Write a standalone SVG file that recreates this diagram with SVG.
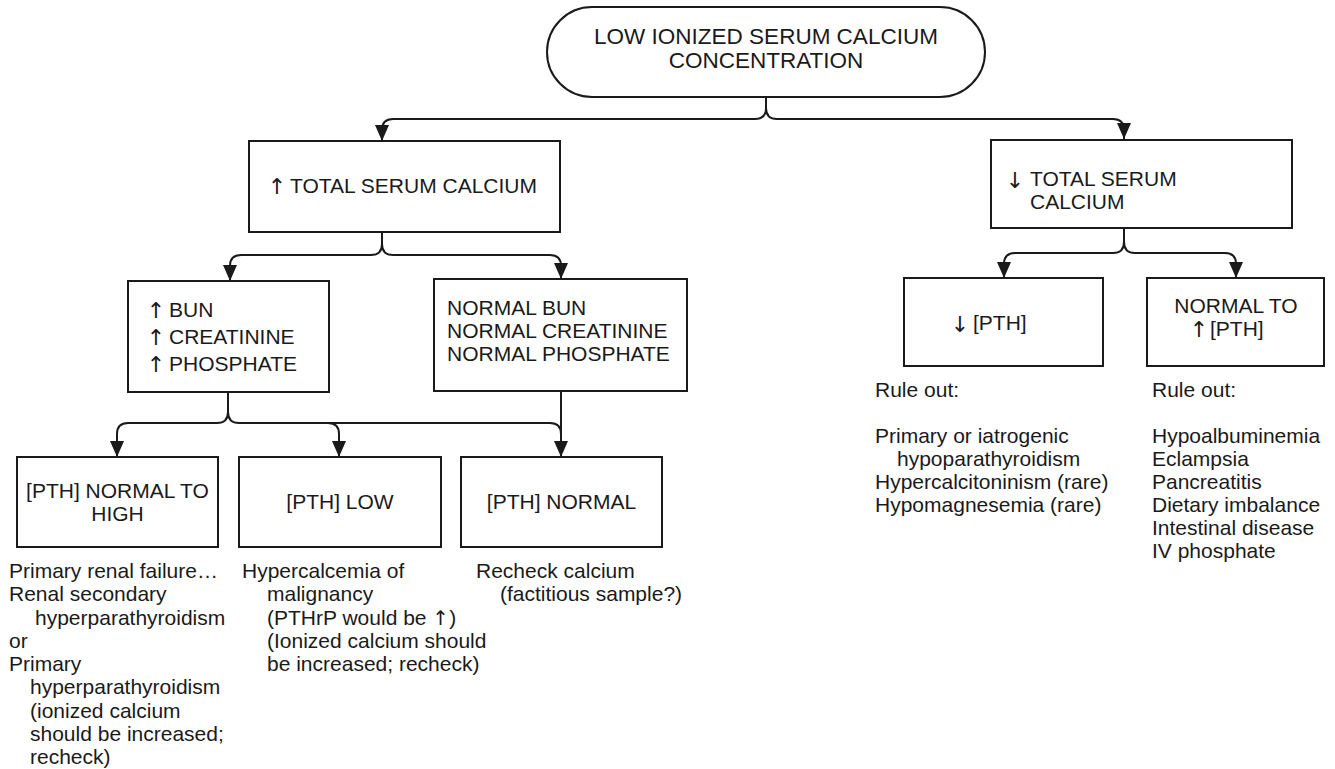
<svg xmlns="http://www.w3.org/2000/svg" width="1335" height="769" viewBox="0 0 1335 769">
<style>
  .box{fill:#fff;stroke:#1a1a1a;stroke-width:2}
  .conn{fill:none;stroke:#1a1a1a;stroke-width:2}
  text{font-family:"Liberation Sans",Arial,Helvetica,sans-serif;font-size:21px;fill:#1a1a1a}
  .c{text-anchor:middle}
  .big{font-size:22.5px}
  .ar{font-family:"DejaVu Sans",sans-serif;font-size:22px;text-anchor:middle}
  .ari{font-family:"DejaVu Sans",sans-serif;font-size:20px}
</style>
<defs>
  <marker id="ah" viewBox="0 0 16 14" refX="16" refY="7" markerWidth="16" markerHeight="14" markerUnits="userSpaceOnUse" orient="auto">
    <path d="M0,0 L16,7 L0,14 z" fill="#1a1a1a"/>
  </marker>
</defs>
<rect width="1335" height="769" fill="#fff"/>

<g id="connectors" class="conn">
  <path d="M766,97 V108 Q766,119 755,119 H393 Q382,119 382,130 V141" marker-end="url(#ah)"/>
  <path d="M766,108 Q766,119 777,119 H1113 Q1124,119 1124,130 V139" marker-end="url(#ah)"/>
  <path d="M382,232 V244 Q382,255 371,255 H241 Q230,255 230,266 V281" marker-end="url(#ah)"/>
  <path d="M382,244 Q382,255 393,255 H550 Q561,255 561,266 V279" marker-end="url(#ah)"/>
  <path d="M228,392 V412 Q228,423 217,423 H128 Q117,423 117,434 V457" marker-end="url(#ah)"/>
  <path d="M228,412 Q228,423 239,423 H550 Q561,423 561,434"/>
  <path d="M328,423 Q339,423 339,434 V457" marker-end="url(#ah)"/>
  <path d="M561,391 V457" marker-end="url(#ah)"/>
  <path d="M1124,228 V242 Q1124,253 1113,253 H1015 Q1004,253 1004,264 V278" marker-end="url(#ah)"/>
  <path d="M1124,242 Q1124,253 1135,253 H1225 Q1236,253 1236,264 V278" marker-end="url(#ah)"/>
</g>

<g id="n_top">
  <rect class="box" x="547" y="7" width="438" height="90" rx="45" ry="45"/>
  <text class="c big" x="766" y="44">LOW IONIZED SERUM CALCIUM</text>
  <text class="c big" x="766" y="68">CONCENTRATION</text>
</g>

<g id="n_tsc_up">
  <rect class="box" x="249" y="141" width="311" height="91"/>
  <text class="ar" x="277" y="194">↑</text>
  <text x="290" y="193">TOTAL SERUM CALCIUM</text>
</g>

<g id="n_tsc_dn">
  <rect class="box" x="991" y="140" width="301" height="88"/>
  <text class="ar" x="1015" y="188">↓</text>
  <text x="1030" y="186">TOTAL SERUM</text>
  <text x="1030" y="209">CALCIUM</text>
</g>

<g id="n_bun_up">
  <rect class="box" x="128" y="281" width="201" height="111"/>
  <text class="ar" x="156" y="318">↑</text>
  <text x="169" y="317">BUN</text>
  <text class="ar" x="156" y="345">↑</text>
  <text x="169" y="344">CREATININE</text>
  <text class="ar" x="156" y="372">↑</text>
  <text x="169" y="371">PHOSPHATE</text>
</g>

<g id="n_bun_norm">
  <rect class="box" x="434" y="279" width="253" height="112"/>
  <text x="447" y="315">NORMAL BUN</text>
  <text x="447" y="338">NORMAL CREATININE</text>
  <text x="447" y="361">NORMAL PHOSPHATE</text>
</g>

<g id="n_pth_dn">
  <rect class="box" x="904" y="278" width="199" height="88"/>
  <text class="ar" x="960" y="332">↓</text>
  <text x="973" y="330">[PTH]</text>
</g>

<g id="n_pth_nup">
  <rect class="box" x="1147" y="278" width="177" height="88"/>
  <text class="c" x="1236" y="313">NORMAL TO</text>
  <text class="ar" x="1199" y="337">↑</text>
  <text x="1210" y="336">[PTH]</text>
</g>

<g id="n_pth_nh">
  <rect class="box" x="17" y="457" width="201" height="90"/>
  <text class="c" x="117.5" y="498">[PTH] NORMAL TO</text>
  <text class="c" x="117.5" y="521">HIGH</text>
</g>

<g id="n_pth_low">
  <rect class="box" x="239" y="457" width="202" height="90"/>
  <text class="c" x="340" y="509">[PTH] LOW</text>
</g>

<g id="n_pth_norm">
  <rect class="box" x="461" y="457" width="201" height="90"/>
  <text class="c" x="561.5" y="509">[PTH] NORMAL</text>
</g>

<g id="t_col1">
  <text x="9" y="578">Primary renal failure…</text>
  <text x="9" y="601">Renal secondary</text>
  <text x="35" y="625">hyperparathyroidism</text>
  <text x="9" y="648">or</text>
  <text x="9" y="671">Primary</text>
  <text x="30" y="694">hyperparathyroidism</text>
  <text x="30" y="718">(ionized calcium</text>
  <text x="30" y="741">should be increased;</text>
  <text x="30" y="764">recheck)</text>
</g>

<g id="t_col2">
  <text x="242" y="578">Hypercalcemia of</text>
  <text x="267" y="601">malignancy</text>
  <text x="267" y="625">(PTHrP would be <tspan class="ari">↑</tspan>)</text>
  <text x="267" y="648">(Ionized calcium should</text>
  <text x="267" y="671">be increased; recheck)</text>
</g>

<g id="t_col3">
  <text x="476" y="578">Recheck calcium</text>
  <text x="500" y="601">(factitious sample?)</text>
</g>

<g id="t_col4">
  <text x="875" y="397">Rule out:</text>
  <text x="875" y="443">Primary or iatrogenic</text>
  <text x="897" y="466">hypoparathyroidism</text>
  <text x="875" y="489">Hypercalcitoninism (rare)</text>
  <text x="875" y="512">Hypomagnesemia (rare)</text>
</g>

<g id="t_col5">
  <text x="1152" y="397">Rule out:</text>
  <text x="1152" y="443">Hypoalbuminemia</text>
  <text x="1152" y="466">Eclampsia</text>
  <text x="1152" y="489">Pancreatitis</text>
  <text x="1152" y="512">Dietary imbalance</text>
  <text x="1152" y="535">Intestinal disease</text>
  <text x="1152" y="558">IV phosphate</text>
</g>
</svg>
